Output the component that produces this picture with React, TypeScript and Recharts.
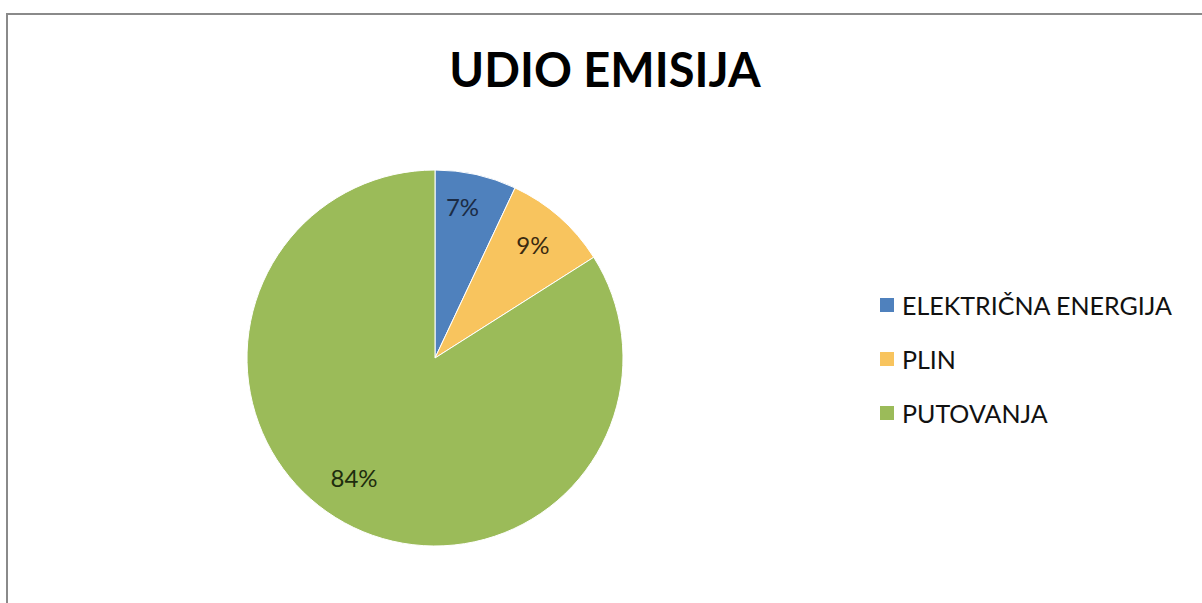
import React from "react";
import { PieChart, Pie, Cell, Legend } from "recharts";

const categories = ["ELEKTRIČNA ENERGIJA", "PLIN", "PUTOVANJA"];
const shares = [7, 9, 84];
const colors = ["#4F81BD", "#F8C45E", "#9BBB59"];
const labelColors = ["#1b2b45", "#3b2a10", "#1e2d0e"];

const data = categories.map((name, i) => ({ name, value: shares[i] }));

const RADIAN = Math.PI / 180;
// Excel "best fit" label placement, nudged per slice
const labelRadius = [154, 150, 144];
const labelAngleShift = [2.3, 0.7, -5.4];

const renderLabel = (props: any) => {
  const { cx, cy, midAngle, index, value } = props;
  const r = labelRadius[index];
  const a = midAngle + labelAngleShift[index];
  const x = cx + r * Math.cos(-a * RADIAN);
  const y = cy + r * Math.sin(-a * RADIAN);
  return (
    <text
      x={x}
      y={y}
      fill={labelColors[index]}
      textAnchor="middle"
      dominantBaseline="central"
      fontFamily="Lato, 'Open Sans', sans-serif"
      fontSize={24}
    >
      {value}%
    </text>
  );
};

const LegendContent = () => (
  <div style={{ fontFamily: "Lato, 'Open Sans', sans-serif", fontSize: 25, color: "#111" }}>
    {data.map((d, i) => (
      <div
        key={d.name}
        style={{ display: "flex", alignItems: "center", height: 54 }}
      >
        <span
          style={{
            display: "inline-block",
            width: 14,
            height: 14,
            background: colors[i],
            marginRight: 8,
          }}
        />
        <span>{d.name}</span>
      </div>
    ))}
  </div>
);

const App: React.FC = () => {
  return (
    <div
      style={{
        position: "fixed",
        left: 0,
        top: 0,
        width: 1202,
        height: 603,
        overflow: "hidden",
        background: "#fff",
      }}
    >
      <div
        style={{
          position: "absolute",
          left: 6,
          top: 13,
          width: 1400,
          height: 800,
          borderLeft: "2px solid #8a8a8a",
          borderTop: "2px solid #8a8a8a",
        }}
      />
      <div
        style={{
          position: "absolute",
          left: 0,
          width: 1210,
          top: 41,
          textAlign: "center",
          fontFamily: "Lato, 'Open Sans', sans-serif",
          fontWeight: 700,
          fontSize: 47,
          color: "#000",
        }}
      >
        UDIO EMISIJA
      </div>
      <div style={{ position: "absolute", left: 0, top: 0 }}>
        <PieChart
          width={1202}
          height={603}
          margin={{ top: 0, right: 0, bottom: 0, left: 0 }}
        >
          <Pie
            data={data}
            dataKey="value"
            nameKey="name"
            cx={435}
            cy={358}
            outerRadius={188}
            startAngle={90}
            endAngle={-270}
            stroke="#ffffff"
            strokeWidth={1}
            label={renderLabel}
            labelLine={false}
            isAnimationActive={false}
          >
            {data.map((d, i) => (
              <Cell key={d.name} fill={colors[i]} />
            ))}
          </Pie>
          <Legend
            layout="vertical"
            content={<LegendContent />}
            wrapperStyle={{ left: 880, top: 278, width: 320 }}
          />
        </PieChart>
      </div>
    </div>
  );
};

export default App;
